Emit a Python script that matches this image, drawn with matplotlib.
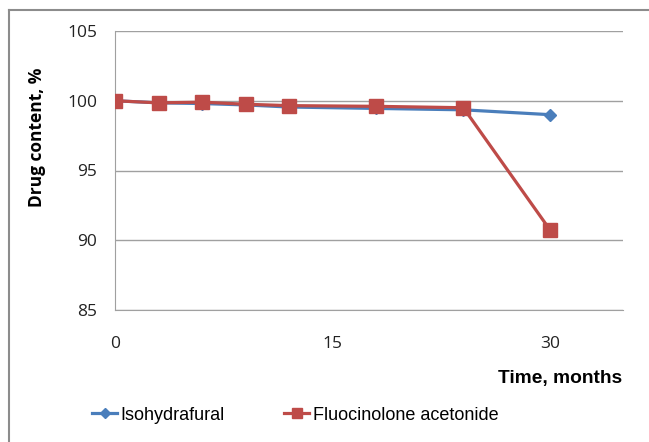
import matplotlib
matplotlib.use('Agg')
import matplotlib.pyplot as plt
from matplotlib.lines import Line2D

# data
months = [0, 3, 6, 9, 12, 18, 24, 30]
isohydrafural = [100.0, 99.85, 99.8, 99.7, 99.55, 99.45, 99.35, 99.0]
fluocinolone = [100.0, 99.85, 99.9, 99.75, 99.65, 99.6, 99.5, 90.7]
y_ticks = [85, 90, 95, 100, 105]
x_ticks = [0, 15, 30]

blue = '#4a7ebb'
red = '#be4b48'
W, H = 649, 442

fig = plt.figure(figsize=(6.49, 4.42), dpi=100)
ax = fig.add_axes([115 / W, 1 - 310 / H, (623 - 115) / W, (310 - 31) / H])

ax.plot(months, isohydrafural, color=blue, lw=2.3, marker='D', ms=6,
        label='Isohydrafural', zorder=3)
ax.plot(months, fluocinolone, color=red, lw=2.3, marker='s', ms=9.5,
        label='Fluocinolone acetonide', zorder=4)

ax.set_xlim(0, 35)
ax.set_ylim(85, 105)
ax.set_xticks(x_ticks)
ax.set_yticks(y_ticks)
ax.tick_params(length=0, labelsize=12.5, labelcolor='#222222')
ax.tick_params(axis='x', pad=19)
ax.tick_params(axis='y', pad=13)
for lab in ax.get_xticklabels() + ax.get_yticklabels():
    lab.set_family('Open Sans')
ax.grid(axis='y', color='#a0a0a0', lw=1)
ax.set_axisbelow(True)
for s in ['top', 'right']:
    ax.spines[s].set_visible(False)
ax.spines['left'].set_color('#a0a0a0')
ax.spines['bottom'].set_color('#a0a0a0')

fig.text(37 / W, 1 - 137 / H, 'Drug content, %', rotation=90, ha='center',
         va='center', fontsize=12.5, fontweight='bold', family='Open Sans')
fig.text(622 / W, 1 - 379 / H, 'Time, months', ha='right', va='center',
         fontsize=13.8, fontweight='bold', family='Liberation Sans')

handles = [Line2D([], [], color=blue, lw=2.3, marker='D', ms=5.5),
           Line2D([], [], color=red, lw=2.3, marker='s', ms=7.5)]
fig.legend(handles, ['Isohydrafural', 'Fluocinolone acetonide'],
           loc='center left', bbox_to_anchor=(92 / W, 1 - 415 / H),
           ncol=2, frameon=False, handlelength=1.4, handletextpad=0.17,
           columnspacing=3.3, borderpad=0, borderaxespad=0,
           prop={'family': 'Liberation Sans', 'size': 13})

# outer chart border (only top and left visible in the crop)
fig.add_artist(Line2D([9 / W, 1], [1 - 10 / H, 1 - 10 / H],
                      color='#8c8c8c', lw=1.5, transform=fig.transFigure))
fig.add_artist(Line2D([9 / W, 9 / W], [0, 1 - 10 / H],
                      color='#8c8c8c', lw=1.5, transform=fig.transFigure))

fig.savefig('out.png', dpi=100)
